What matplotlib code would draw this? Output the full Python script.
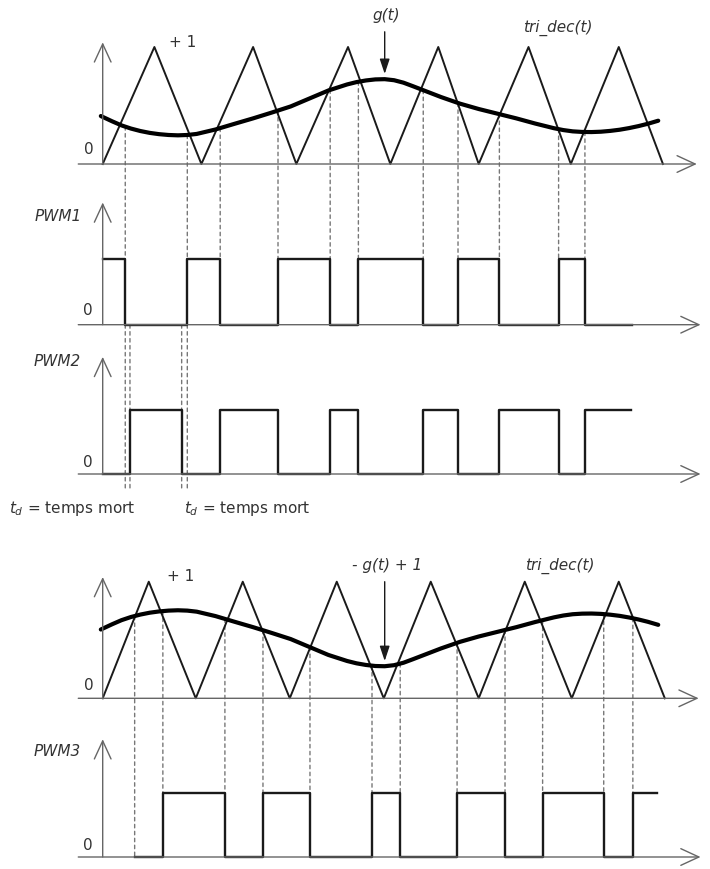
import numpy as np
import matplotlib
matplotlib.use('Agg')
import matplotlib.pyplot as plt
from matplotlib.patches import ConnectionPatch

plt.rcParams['font.family'] = ['DejaVu Sans']
plt.rcParams['mathtext.fontset'] = 'dejavusans'

# time axis in carrier periods (t = 0 at the vertical axis)
# triangle carrier tri_dec(t), vertices as drawn in each diagram
tri1_t = [0, 0.55, 1.05, 1.60, 2.06, 2.61, 3.06, 3.57, 4.00, 4.53, 4.98, 5.49, 5.96]
tri4_t = [0, 0.49, 0.99, 1.49, 1.99, 2.49, 2.99, 3.49, 4.00, 4.49, 4.99, 5.49, 5.98]
tri_v = [0, 1, 0, 1, 0, 1, 0, 1, 0, 1, 0, 1, 0]

# modulating signal g(t)
g_t = [-0.02, 0.1, 0.2, 0.3, 0.4, 0.5, 0.6, 0.7, 0.8, 0.9, 1.0, 1.2, 1.4, 1.6, 1.8,
       2.0, 2.2, 2.4, 2.6, 2.7, 2.8, 2.9, 3.0, 3.1, 3.2, 3.3, 3.4, 3.6, 3.8, 4.0,
       4.2, 4.4, 4.6, 4.8, 4.9, 5.0, 5.1, 5.2, 5.3, 5.4, 5.5, 5.6, 5.7, 5.8, 5.91]
g_v = [0.41, 0.365, 0.33, 0.303, 0.282, 0.266, 0.255, 0.248, 0.245, 0.248, 0.257,
       0.295, 0.343, 0.39, 0.44, 0.492, 0.56, 0.628, 0.68, 0.70, 0.714, 0.723, 0.725,
       0.716, 0.695, 0.665, 0.634, 0.572, 0.516, 0.47, 0.43, 0.39, 0.346, 0.306,
       0.29, 0.279, 0.274, 0.273, 0.276, 0.283, 0.293, 0.307, 0.324, 0.344, 0.37]

# switching signals (time of each level change, level after it)
pwm1_t = [0, 0.24, 0.90, 1.25, 1.865, 2.42, 2.72, 3.41, 3.78, 4.22, 4.85, 5.13, 5.63]
pwm1_v = [1, 0, 1, 0, 1, 0, 1, 0, 1, 0, 1, 0, 0]
pwm2_t = [0, 0.29, 0.84, 1.25, 1.865, 2.42, 2.72, 3.41, 3.78, 4.22, 4.85, 5.13, 5.62]
pwm2_v = [0, 1, 0, 1, 0, 1, 0, 1, 0, 1, 0, 1, 1]
pwm3_t = [0.34, 0.64, 1.30, 1.705, 2.205, 2.865, 3.165, 3.77, 4.28, 4.68, 5.33, 5.64, 5.90]
pwm3_v = [0, 1, 0, 1, 0, 1, 0, 1, 0, 1, 0, 1, 1]
dead_t = [0.24, 0.29, 0.84, 0.90]

W, H = 710, 870
X_AX, PX_T = 102.7, 94.0
XL = (-X_AX / PX_T, (W - X_AX) / PX_T)
AX_C = '#666666'
SIG_C = '#1a1a1a'
TXT_C = '#333333'
DASH_C = '#777777'

fig = plt.figure(figsize=(W / 100, H / 100), dpi=100)


def panel(top, bot, base, unit):
    ax = fig.add_axes([0, 1 - bot / H, 1, (bot - top) / H])
    ax.set_xlim(XL)
    ax.set_ylim((base - bot) / unit, (base - top) / unit)
    ax.set_axis_off()
    return ax


def draw_axes(ax, ytop, xtip=6.36):
    st = dict(arrowstyle='->,head_length=0.65,head_width=0.3', color=AX_C, lw=1.0,
              mutation_scale=20, shrinkA=0, shrinkB=0)
    ax.annotate('', xy=(xtip, 0), xytext=(-0.26, 0), arrowprops=st)
    ax.annotate('', xy=(0, ytop), xytext=(0, 0), arrowprops=st)


def dashed(axA, yA, axB, yB, t):
    con = ConnectionPatch(xyA=(t, yA), xyB=(t, yB), coordsA='data', coordsB='data',
                          axesA=axA, axesB=axB, color=DASH_C, lw=1.0,
                          linestyle=(0, (2.5, 2.5)), zorder=-1)
    fig.add_artist(con)


txt = dict(color=TXT_C, fontsize=11)
gstyle = dict(color='black', lw=3.0, solid_capstyle='round', solid_joinstyle='round')

ax1 = panel(0, 178, 165, 117)
ax2 = panel(178, 340, 325.7, 65.7)
ax3 = panel(340, 525, 475, 64)
ax4 = panel(525, 712, 699.3, 116.6)
ax5 = panel(712, 870, 858, 64)

# --- carrier + g(t)
draw_axes(ax1, 1.04, 6.32)
ax1.plot(tri1_t, tri_v, color=SIG_C, lw=1.4)
ax1.plot(g_t, g_v, **gstyle)
ax1.text(-0.15, 0.13, '0', ha='center', va='center', **txt)
ax1.text(0.70, 1.05, '+ 1', ha='left', va='center', **txt)
ax1.text(3.02, 1.28, 'g(t)', ha='center', va='center', style='italic', **txt)
ax1.text(4.84, 1.17, 'tri_dec(t)', ha='center', va='center', style='italic', **txt)
ax1.annotate('', xy=(3.0, 0.77), xytext=(3.0, 1.13),
             arrowprops=dict(arrowstyle='-|>,head_length=0.9,head_width=0.3', color=SIG_C,
                             lw=1.0, mutation_scale=10, shrinkA=0, shrinkB=0))

# --- PWM1
draw_axes(ax2, 1.86)
ax2.step(pwm1_t, pwm1_v, where='post', color=SIG_C, lw=1.7)
ax2.text(-0.22, 1.655, 'PWM1', ha='right', va='center', style='italic', **txt)
ax2.text(-0.16, 0.23, '0', ha='center', va='center', **txt)
for t in pwm1_t[1:-1]:
    dashed(ax1, np.interp(t, g_t, g_v), ax2, 1, t)

# --- PWM2 with dead times
draw_axes(ax3, 1.83)
ax3.step(pwm2_t, pwm2_v, where='post', color=SIG_C, lw=1.7)
ax3.text(-0.23, 1.77, 'PWM2', ha='right', va='center', style='italic', **txt)
ax3.text(-0.16, 0.19, '0', ha='center', va='center', **txt)
for t in dead_t:
    dashed(ax2, 0, ax3, -0.27, t)
ax3.text(-1.0, -0.52, r'$t_d$ = temps mort', ha='left', va='center', **txt)
ax3.text(0.86, -0.52, r'$t_d$ = temps mort', ha='left', va='center', **txt)

# --- carrier + (1 - g(t))
draw_axes(ax4, 1.04, 6.34)
ax4.plot(tri4_t, tri_v, color=SIG_C, lw=1.4)
g4 = 1 - np.array(g_v)
ax4.plot(g_t, g4, **gstyle)
ax4.text(-0.15, 0.12, '0', ha='center', va='center', **txt)
ax4.text(0.68, 1.05, '+ 1', ha='left', va='center', **txt)
ax4.text(3.03, 1.15, '- g(t) + 1', ha='center', va='center', style='italic', **txt)
ax4.text(4.86, 1.14, 'tri_dec(t)', ha='center', va='center', style='italic', **txt)
ax4.annotate('', xy=(3.0, 0.32), xytext=(3.0, 1.0),
             arrowprops=dict(arrowstyle='-|>,head_length=0.9,head_width=0.3', color=SIG_C,
                             lw=1.0, mutation_scale=10, shrinkA=0, shrinkB=0))

# --- PWM3
draw_axes(ax5, 1.84)
ax5.step(pwm3_t, pwm3_v, where='post', color=SIG_C, lw=1.7)
ax5.text(-0.23, 1.66, 'PWM3', ha='right', va='center', style='italic', **txt)
ax5.text(-0.16, 0.2, '0', ha='center', va='center', **txt)
for i, t in enumerate(pwm3_t[:-1]):
    dashed(ax4, np.interp(t, g_t, g4), ax5, 0 if i == 0 else 1, t)

fig.savefig('out.png', dpi=100)
